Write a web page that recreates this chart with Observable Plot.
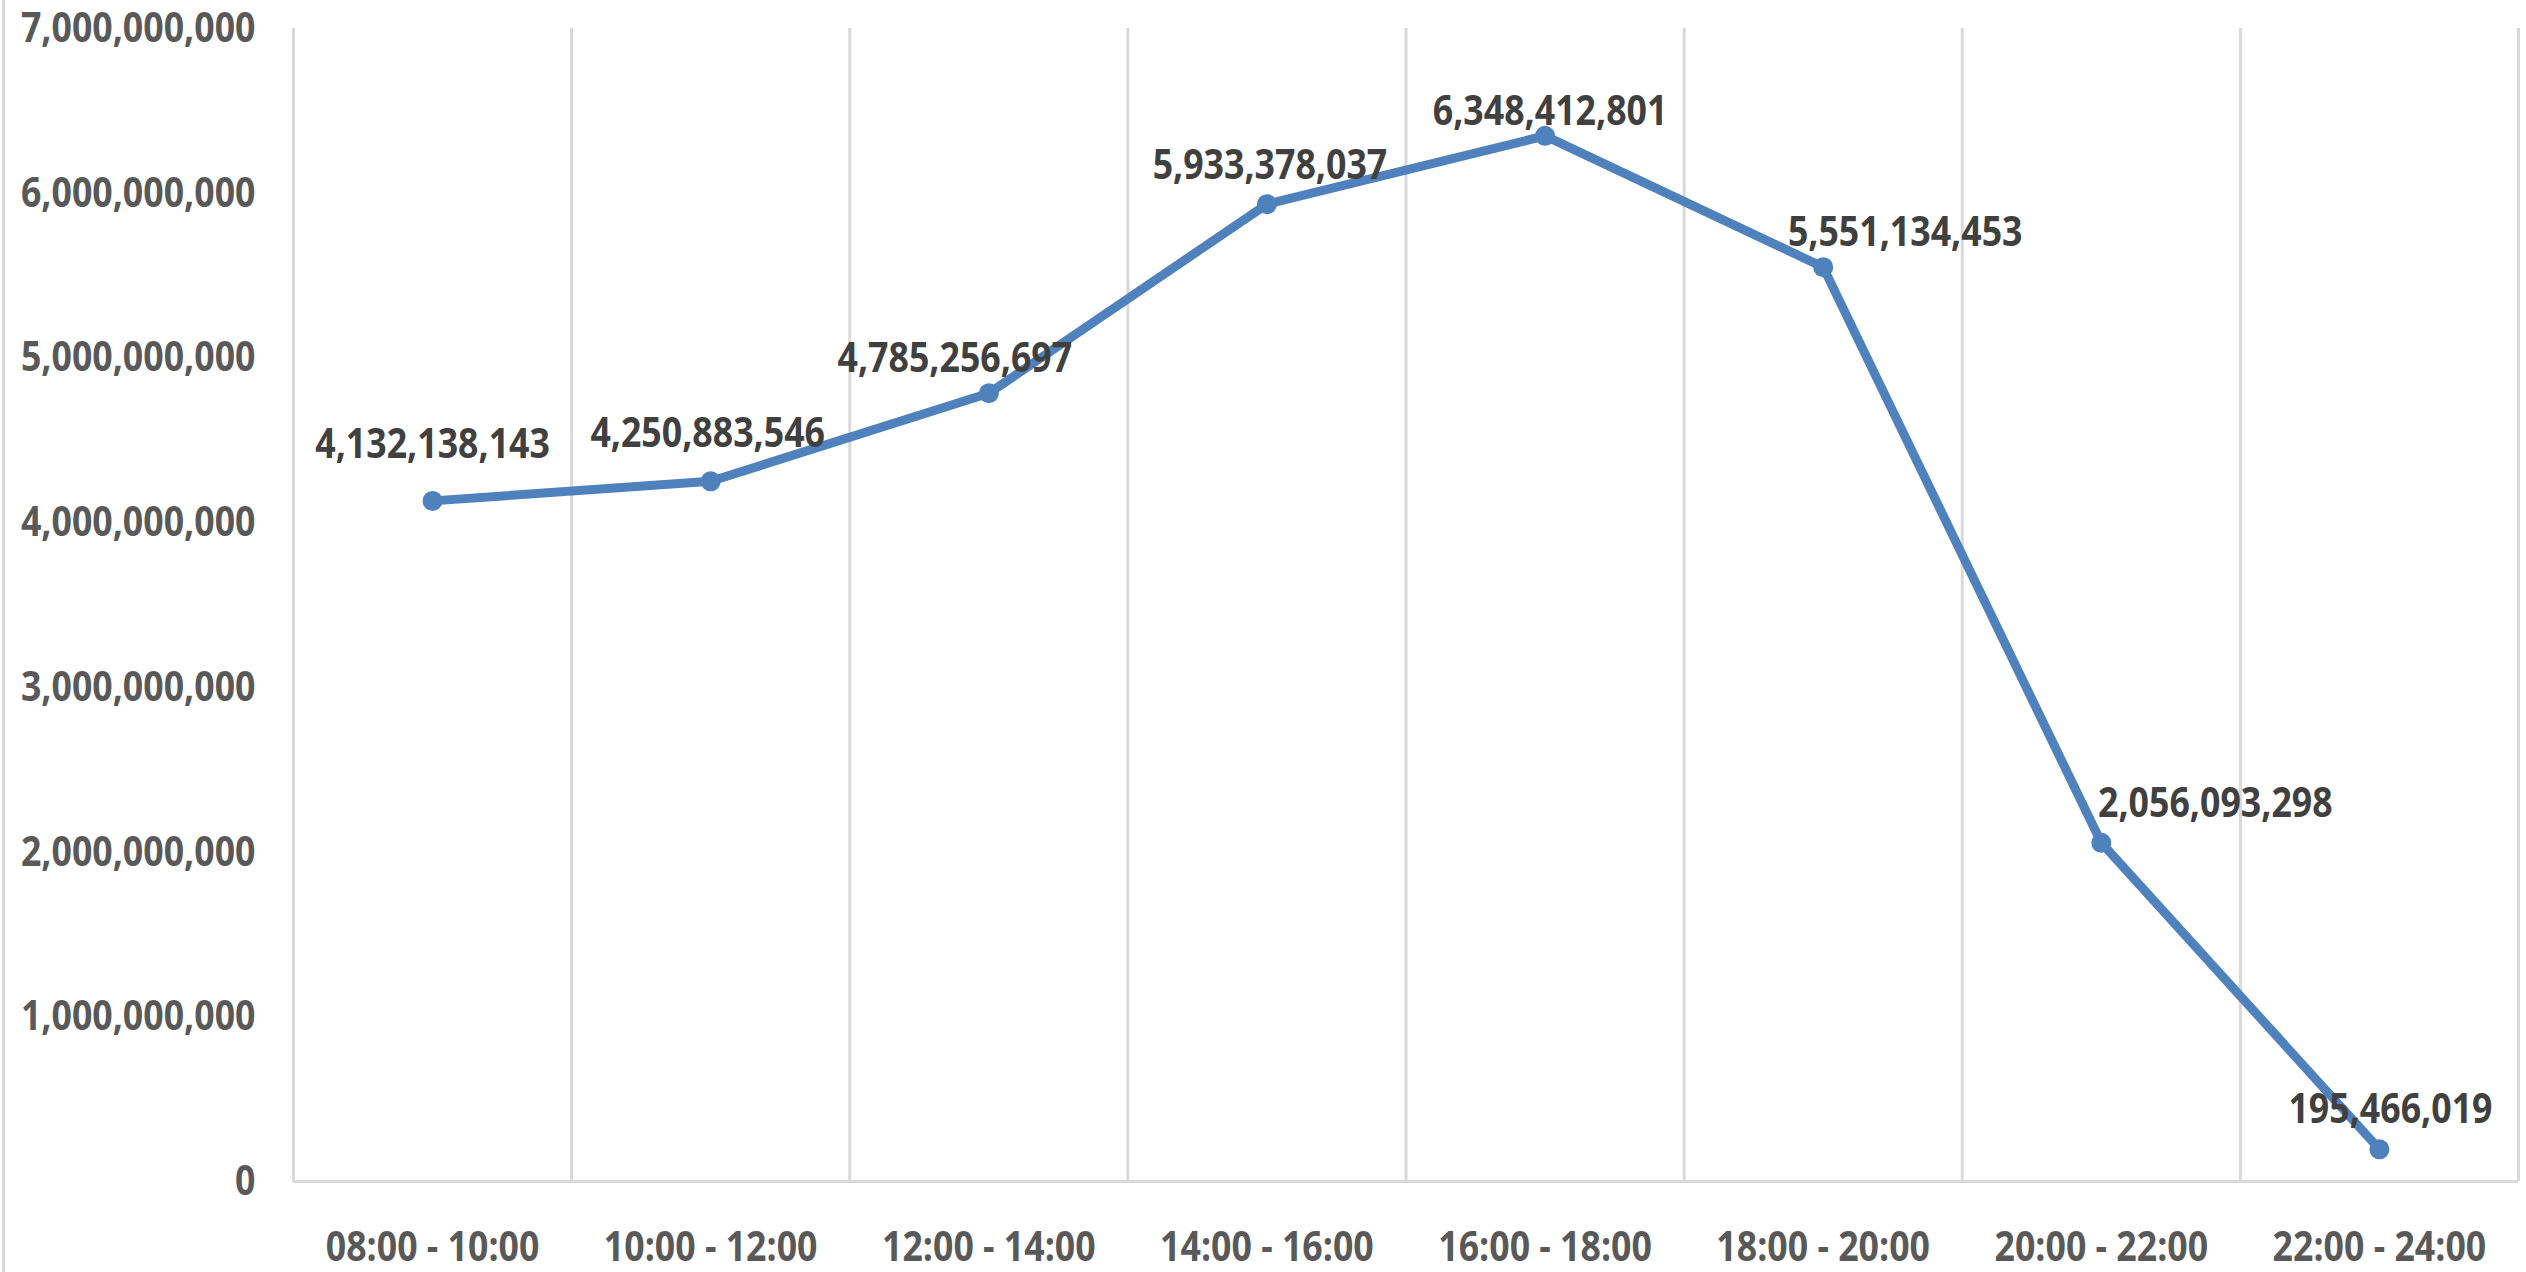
<!DOCTYPE html>
<html>
<head>
<meta charset="utf-8">
<script src="https://cdn.jsdelivr.net/npm/d3@7"></script>
<script src="https://cdn.jsdelivr.net/npm/@observablehq/plot@0.6"></script>
<style>
  html, body { margin: 0; padding: 0; background: #ffffff; }
  #wrap { position: relative; width: 2526px; height: 1272px; overflow: hidden; }
  #leftBorder { position: absolute; left: 2px; top: 0; width: 3px; height: 1272px; background: #d9d9d9; }
</style>
</head>
<body>
<div id="wrap"><div id="leftBorder"></div></div>
<script>
// ---- data ----
const slots = ["08:00 - 10:00", "10:00 - 12:00", "12:00 - 14:00", "14:00 - 16:00",
               "16:00 - 18:00", "18:00 - 20:00", "20:00 - 22:00", "22:00 - 24:00"];
const revenue = [4132138143, 4250883546, 4785256697, 5933378037,
                 6348412801, 5551134453, 2056093298, 195466019];
const yTicks = [0, 1000000000, 2000000000, 3000000000, 4000000000, 5000000000, 6000000000, 7000000000];

// ---- label placement (style only) ----
const labelOffsets = [[0, -56], [-3, -48], [-34, -35], [3, -39], [5, -24], [82, -35], [114, -39], [11, -40]];

const data = slots.map((s, i) => ({slot: s, pos: i + 0.5, value: revenue[i], idx: i}));
const fmt = d3.format(",");
const FONT = "'Open Sans', 'Noto Sans', sans-serif";
const SQUEEZE = 0.85;

const labelMarks = data.map((d, i) => Plot.text([d], {
  x: "pos", y: "value", text: (v) => fmt(v.value),
  dx: labelOffsets[i][0], dy: labelOffsets[i][1],
  fontSize: 42, fontWeight: "bold", fill: "#404040"
}));

const chart = Plot.plot({
  width: 2526,
  height: 1272,
  marginLeft: 293,
  marginRight: 8,
  marginTop: 28,
  marginBottom: 91,
  x: {type: "linear", domain: [0, slots.length]},
  y: {domain: [0, 7000000000]},
  style: {fontFamily: FONT, background: "transparent", overflow: "visible"},
  marks: [
    Plot.ruleX(d3.range(slots.length + 1), {stroke: "#d9d9d9", strokeWidth: 3}),
    Plot.ruleY([0], {stroke: "#d9d9d9", strokeWidth: 3}),
    Plot.axisX({ticks: data.map(d => d.pos), tickFormat: (t) => slots[Math.floor(t)],
      tickSize: 0, tickPadding: 50, fontSize: 42, fontWeight: "bold", color: "#595959", label: null}),
    Plot.axisY({ticks: yTicks, tickFormat: fmt, tickSize: 0, tickPadding: 38,
      fontSize: 42, fontWeight: "bold", color: "#595959", label: null}),
    Plot.line(data, {x: "pos", y: "value", stroke: "#4f81bd", strokeWidth: 9}),
    Plot.dot(data, {x: "pos", y: "value", r: 10, fill: "#4f81bd"}),
    ...labelMarks
  ]
});

// condense glyphs horizontally around each text's anchor (Calibri-like narrow look)
chart.querySelectorAll("text").forEach(el => {
  const t = el.getAttribute("transform") || "";
  const x = parseFloat(el.getAttribute("x")) || 0;
  if (el.hasAttribute("x")) el.removeAttribute("x");
  el.setAttribute("transform", `${t} translate(${x},0) scale(${SQUEEZE},1)`.trim());
});

document.getElementById("wrap").appendChild(chart);
</script>
</body>
</html>
